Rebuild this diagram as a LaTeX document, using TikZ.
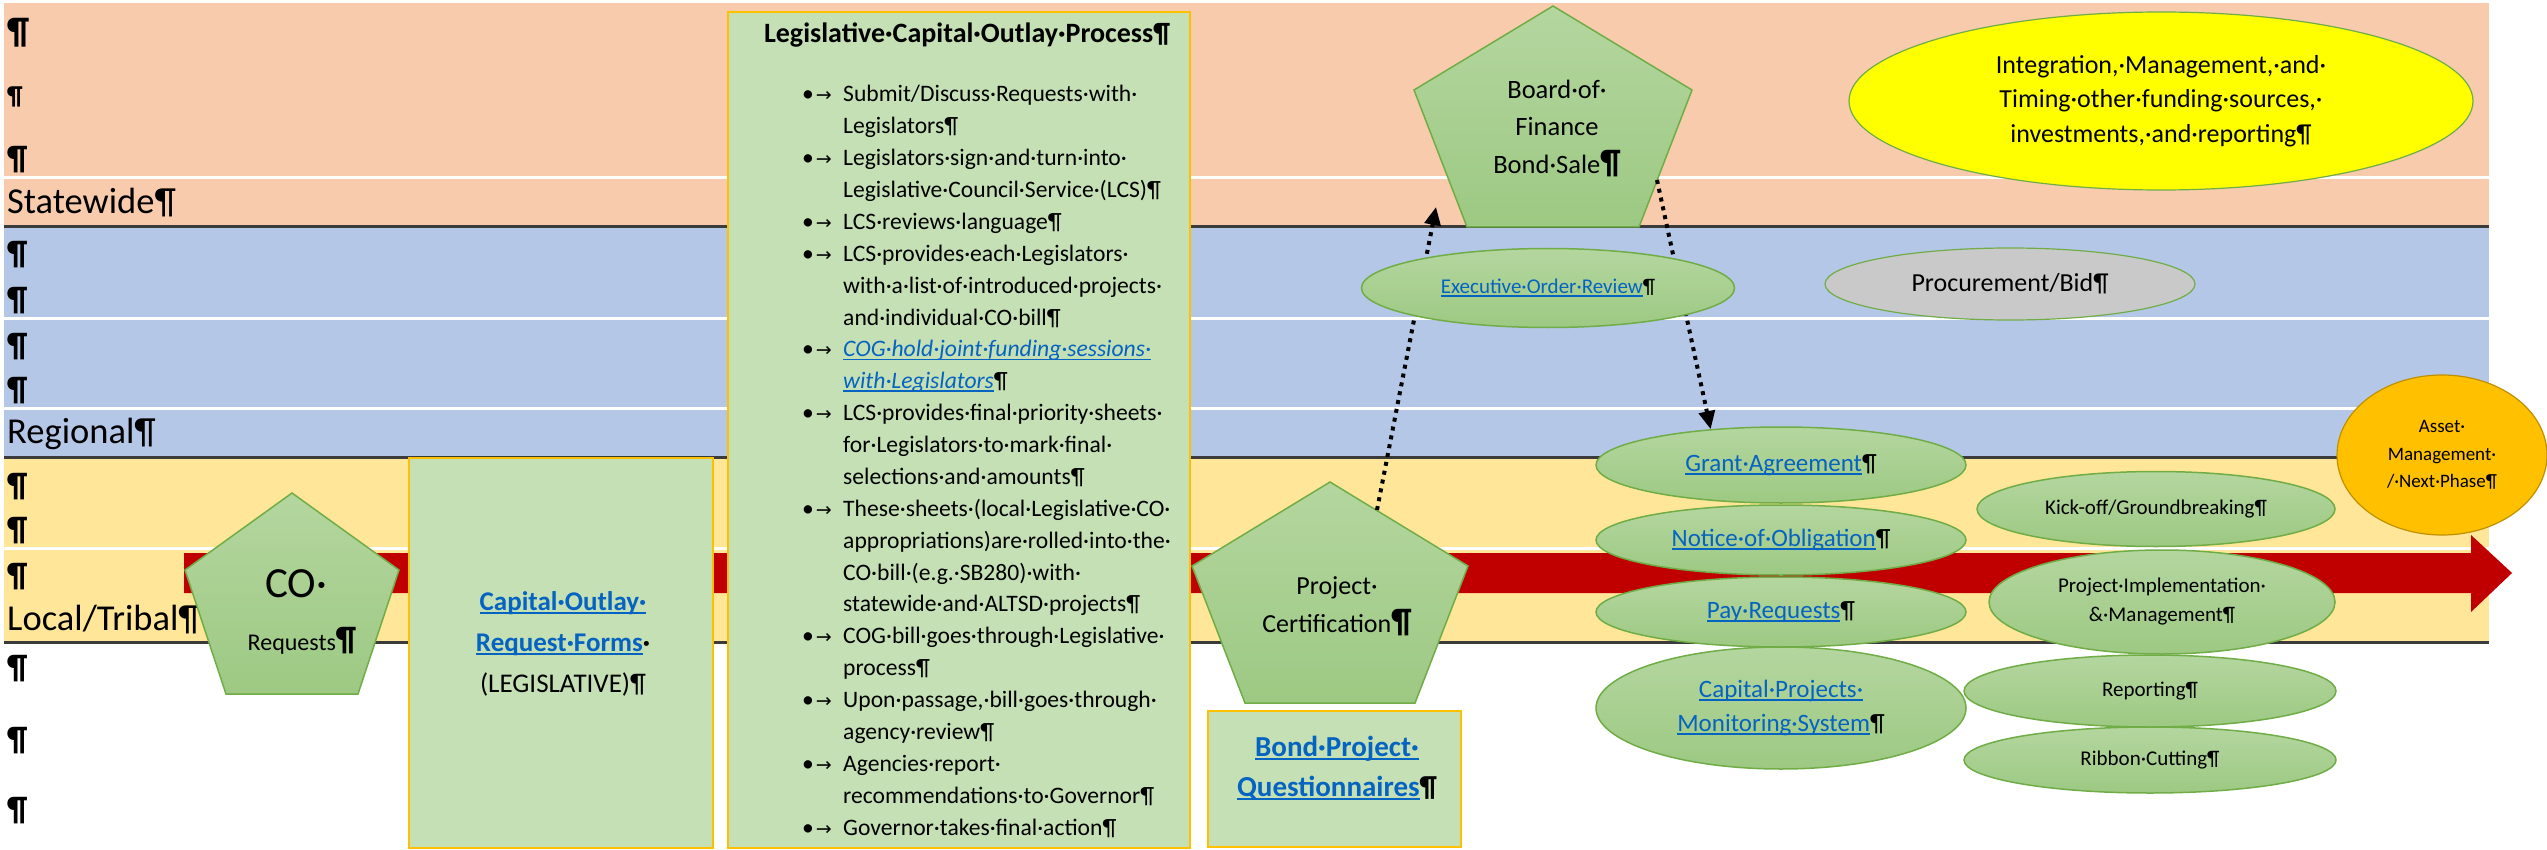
\documentclass[tikz,border=0pt]{standalone}
\usepackage{fontspec}
\setmainfont{Carlito}
\newfontfamily\dvfont{DejaVu Sans}
\usetikzlibrary{shapes.geometric,arrows.meta}
\definecolor{peach}{HTML}{F8CBAD}
\definecolor{bandblue}{HTML}{B4C7E7}
\definecolor{bandyellow}{HTML}{FFE699}
\definecolor{boxgreen}{HTML}{C5E0B4}
\definecolor{boxborder}{HTML}{FFC000}
\definecolor{gtop}{HTML}{B4D69F}
\definecolor{gbot}{HTML}{9DC983}
\definecolor{gborder}{HTML}{70AD47}
\definecolor{arrowred}{HTML}{C00000}
\definecolor{linkblue}{HTML}{0563C1}
\definecolor{darkline}{HTML}{3B3B3B}
\definecolor{procgray}{HTML}{C9C9C9}
\definecolor{assetgold}{HTML}{FFC000}
\definecolor{assetborder}{HTML}{BF9000}
\definecolor{integyellow}{HTML}{FFFF00}
\newcommand{\myfs}[2]{\fontsize{#1}{#2}\selectfont}
\newsavebox\myulbox
\newcommand{\myuline}[1]{\sbox\myulbox{#1}\rlap{\usebox\myulbox}\rule[-0.13em]{\wd\myulbox}{0.06em}}
\newcommand{\lnk}[1]{\textcolor{linkblue}{\myuline{#1}}}
\newcommand{\bul}{\makebox[41pt][l]{\textbullet\hspace{2pt}{\dvfont\myfs{19}{19}→}}}
\newcommand{\cnt}{\hspace*{41pt}}
\newcommand{\bigpil}{{\bfseries\myfs{34}{34}¶}}
\begin{document}
\begin{tikzpicture}[x=1pt,y=-1pt,
  sepline/.style={white,line width=3pt},
  darksep/.style={darkline,line width=3pt},
  lbl/.style={anchor=base west,inner sep=0pt,font=\myfs{36.5}{40}},
  pilmark/.style={anchor=base west,inner sep=0pt,font=\bfseries\myfs{34}{40}},
  gbox/.style={draw=boxborder,line width=2.5pt,fill=boxgreen,inner sep=0pt},
  pent/.style={draw=gborder,line width=1.5pt,top color=gtop,bottom color=gbot},
  gell/.style={ellipse,draw=gborder,line width=1.5pt,top color=gtop,bottom color=gbot,inner sep=0pt,align=center},
  txt/.style={inner sep=0pt,align=center},
  dotarrow/.style={line width=4pt,dash pattern=on 4pt off 5pt,-{Triangle[length=18pt,width=16pt]}},
]
\useasboundingbox (0,0) rectangle (2547,850);
\fill[white] (0,0) rectangle (2547,850);

% bands
\fill[peach] (4,3) rectangle (2489,227);
\fill[bandblue] (4,227) rectangle (2489,457);
\fill[bandyellow] (4,457) rectangle (2489,642);
\draw[sepline] (4,178) -- (2489,178);
\draw[sepline] (4,318) -- (2489,318);
\draw[sepline] (4,408) -- (2489,408);
\draw[sepline] (4,548) -- (2489,548);
\draw[darksep] (4,227) -- (2489,227);
\draw[darksep] (4,457) -- (2489,457);
\draw[darksep] (4,642) -- (2489,642);

% left marks and labels
\node[pilmark,font=\bfseries\myfs{37}{40}] (p1) at (7,44) {¶};
\node[pilmark,font=\bfseries\myfs{26}{30}] (p2) at (7,105) {¶};
\node[pilmark] (p3) at (7,170) {¶};
\node[lbl] (statewide) at (7,214) {Statewide¶};
\node[pilmark] (p4) at (7,265) {¶};
\node[pilmark] (p5) at (7,310) {¶};
\node[pilmark] (p6) at (7,356) {¶};
\node[pilmark] (p7) at (7,400) {¶};
\node[lbl] (regional) at (7,443) {Regional¶};
\node[pilmark] (p8) at (7,496) {¶};
\node[pilmark] (p9) at (7,540) {¶};
\node[pilmark] (p10) at (7,586) {¶};
\node[lbl] (local) at (7,630) {Local/Tribal¶};
\node[pilmark] (p11) at (7,678) {¶};
\node[pilmark] (p12) at (7,750) {¶};
\node[pilmark] (p13) at (7,820) {¶};

% red process arrow
\fill[arrowred] (184,553) -- (2471,553) -- (2471,535) -- (2512,573) -- (2471,612) -- (2471,593) -- (184,593) -- cycle;

% CO requests pentagon
\coordinate (co-t) at (292,493);
\coordinate (co-r) at (399,570);
\coordinate (co-br) at (358,694);
\coordinate (co-bl) at (226,694);
\coordinate (co-l) at (185,570);
\draw[pent] (co-t) -- (co-r) -- (co-br) -- (co-bl) -- (co-l) -- cycle;
\node[txt,font=\myfs{43}{43}] (co-l1) at (296,584) {CO·};
\node[txt,font=\myfs{24}{24}] (co-l2) at (302,641) {Requests\bigpil};

% Capital outlay request forms box
\node[gbox,minimum width=304,minimum height=390] (capbox) at (561,653) {};
\node[txt,font=\bfseries\myfs{27}{41}] (captxt) at (563,644) {\lnk{Capital·Outlay·}\\\lnk{Request·Forms}·\\{\mdseries (LEGISLATIVE)¶}};

% Legislative capital outlay process box
\node[gbox,minimum width=462,minimum height=836] (legbox) at (959,430) {};
\node[txt,font=\bfseries\myfs{28}{28}] (legtitle) at (967,35) {Legislative·Capital·Outlay·Process¶};
\node[anchor=base west,inner sep=0pt] (leglist) at (802,102) {\parbox[t]{400pt}{\myfs{23.6}{31.87}\raggedright
\bul Submit/Discuss·Requests·with·\\
\cnt Legislators¶\\
\bul Legislators·sign·and·turn·into·\\
\cnt Legislative·Council·Service·(LCS)¶\\
\bul LCS·reviews·language¶\\
\bul LCS·provides·each·Legislators·\\
\cnt with·a·list·of·introduced·projects·\\
\cnt and·individual·CO·bill¶\\
\bul {\itshape\lnk{COG·hold·joint·funding·sessions·}}\\
\cnt {\itshape\lnk{with·Legislators}}¶\\
\bul LCS·provides·final·priority·sheets·\\
\cnt for·Legislators·to·mark·final·\\
\cnt selections·and·amounts¶\\
\bul These·sheets·(local·Legislative·CO·\\
\cnt appropriations)are·rolled·into·the·\\
\cnt CO·bill·(e.g.·SB280)·with·\\
\cnt statewide·and·ALTSD·projects¶\\
\bul COG·bill·goes·through·Legislative·\\
\cnt process¶\\
\bul Upon·passage,·bill·goes·through·\\
\cnt agency·review¶\\
\bul Agencies·report·\\
\cnt recommendations·to·Governor¶\\
\bul Governor·takes·final·action¶}};

% Bond project questionnaires box
\node[gbox,minimum width=253,minimum height=136] (bondbox) at (1334.5,779) {};
\node[txt,font=\bfseries\myfs{29}{40}] (bondtxt) at (1337,768) {\lnk{Bond·Project·}\\\lnk{Questionnaires}¶};

% Board of Finance pentagon
\coordinate (bof-t) at (1553,6);
\coordinate (bof-r) at (1692,90);
\coordinate (bof-br) at (1639,227);
\coordinate (bof-bl) at (1467,227);
\coordinate (bof-l) at (1414,90);
\draw[pent] (bof-t) -- (bof-r) -- (bof-br) -- (bof-bl) -- (bof-l) -- cycle;
\node[txt,font=\myfs{26.5}{37.5}] (boftxt) at (1557,128) {Board·of·\\Finance\\Bond·Sale\bigpil};

% Project certification pentagon
\coordinate (pc-t) at (1330,482);
\coordinate (pc-r) at (1468,566);
\coordinate (pc-br) at (1415,703);
\coordinate (pc-bl) at (1245,703);
\coordinate (pc-l) at (1192,566);
\draw[pent] (pc-t) -- (pc-r) -- (pc-br) -- (pc-bl) -- (pc-l) -- cycle;
\node[txt,font=\myfs{26}{38}] (pctxt) at (1337,606) {Project·\\Certification\bigpil};

% grant column
\node[gell,minimum width=370,minimum height=76,font=\myfs{25}{25}] (grant) at (1781,465) {\lnk{Grant·Agreement}¶};
\node[gell,minimum width=370,minimum height=70,font=\myfs{25}{25}] (notice) at (1781,540) {\lnk{Notice·of·Obligation}¶};
\node[gell,minimum width=370,minimum height=70,font=\myfs{25}{25}] (pay) at (1781,612) {\lnk{Pay·Requests}¶};
\node[gell,minimum width=370,minimum height=122,font=\myfs{25}{34}] (cpms) at (1781,708) {\lnk{Capital·Projects·}\\\lnk{Monitoring·System}¶};

% dotted connectors
\coordinate (pc-a) at (1377,510);
\coordinate (bof-below) at (1436,207);
\coordinate (bof-a) at (1657,180);
\draw[dotarrow] (pc-a) -- (bof-below);
\draw[dotarrow] (bof-a) -- (grant.153);

% executive order review
\node[gell,minimum width=373,minimum height=79,font=\myfs{21}{21}] (exec) at (1548,288) {\lnk{Executive·Order·Review}¶};

% right column
\node[gell,minimum width=358,minimum height=75,font=\myfs{21}{21}] (kick) at (2156,509) {Kick-off/Groundbreaking¶};
\node[gell,minimum width=346,minimum height=104,font=\myfs{21}{29}] (impl) at (2162,602) {Project·Implementation·\\\&·Management¶};
\node[gell,minimum width=372,minimum height=72,font=\myfs{21}{21}] (rep) at (2150,691) {Reporting¶};
\node[gell,minimum width=372,minimum height=66,font=\myfs{21}{21}] (rib) at (2150,760) {Ribbon·Cutting¶};

% statewide / regional ellipses
\node[ellipse,draw=gborder,line width=1.2pt,fill=integyellow,minimum width=624,minimum height=178,inner sep=0pt,align=center,font=\myfs{26}{34.5}] (integ) at (2161,101) {Integration,·Management,·and·\\Timing·other·funding·sources,·\\investments,·and·reporting¶};
\node[ellipse,draw=gborder,line width=1.2pt,fill=procgray,minimum width=370,minimum height=72,inner sep=0pt,font=\myfs{26}{26}] (proc) at (2010,284) {Procurement/Bid¶};

% asset management
\node[ellipse,draw=assetborder,line width=1.2pt,fill=assetgold,minimum width=210,minimum height=160,inner sep=0pt,align=center,font=\myfs{19}{27.5}] (asset) at (2442,455) {Asset·\\Management·\\/·Next·Phase¶};
\end{tikzpicture}
\end{document}
